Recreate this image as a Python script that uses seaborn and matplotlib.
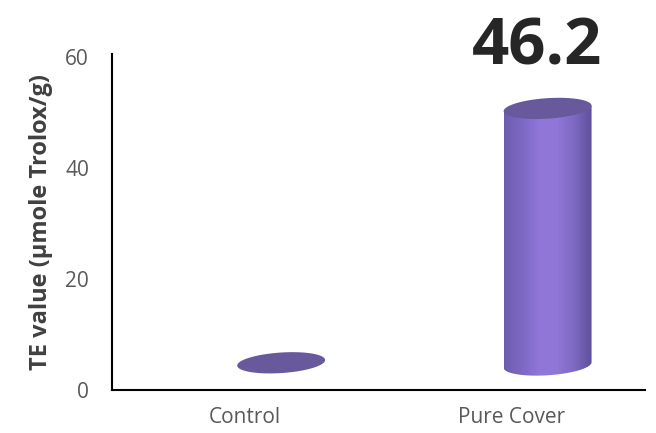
import numpy as np
import pandas as pd
import matplotlib
matplotlib.use("Agg")
import matplotlib.pyplot as plt
import seaborn as sns
from matplotlib.path import Path
from matplotlib.patches import PathPatch
from matplotlib.colors import LinearSegmentedColormap

categories = ["Control", "Pure Cover"]
values = [0.4, 46.2]
y_ticks = [0, 20, 40, 60]
y_label = "TE value (µmole Trolox/g)"

sns.set_theme(style="white")
plt.rcParams["font.family"] = ["Open Sans", "DejaVu Sans"]

df = pd.DataFrame({"cat": categories, "val": values})

fig = plt.figure(figsize=(6.56, 4.33), dpi=100)
ax = fig.add_axes([0.1707, 0.0993, 0.8123, 0.7760])
sns.barplot(data=df, x="cat", y="val", ax=ax, color="#8a72d4", width=0.33)

# 3D cylinder styling
base = 4.5        # depth offset (data units)
xshift = 0.135    # depth shift to the right
b = 1.85          # ellipse half-height (data units)
k = 3.0           # shear (tilt) y per x
cmap = LinearSegmentedColormap.from_list(
    "cyl", ["#6d5cae", "#7d68c4", "#8f76d8", "#9077d8", "#7e69c2", "#5f4f98"])
grad = np.linspace(0, 1, 256).reshape(1, -1)
t = np.linspace(0, 2 * np.pi, 100)

for p in ax.patches:
    w = p.get_width()
    a = w / 2
    cx = p.get_x() + a + xshift
    h = p.get_height()
    bot = base
    top = base + h
    p.set_visible(False)
    # side polygon
    tb = np.linspace(np.pi, 2 * np.pi, 60)
    xs = [cx - a, cx - a]
    ys = [top - k * a, bot - k * a]
    xs += list(cx + a * np.cos(tb))
    ys += list(bot + b * np.sin(tb) + k * a * np.cos(tb))
    xs += [cx + a]
    ys += [top + k * a]
    verts = np.column_stack([xs, ys])
    side = PathPatch(Path(np.vstack([verts, verts[:1]]), closed=True),
                     facecolor="none", edgecolor="none")
    ax.add_patch(side)
    if h > 1:
        im = ax.imshow(grad, cmap=cmap, aspect="auto",
                       extent=(cx - a, cx + a, bot - 3 * b, top + 3 * b),
                       interpolation="bicubic", zorder=2)
        im.set_clip_path(side)
    # top ellipse
    ex = cx + a * np.cos(t)
    ey = top + b * np.sin(t) + k * a * np.cos(t)
    ax.fill(ex, ey, color="#68589c", zorder=3, lw=0)

ax.set_xlim(-0.5, 1.5)
ax.set_ylim(0, 60.5)
ax.set_yticks(y_ticks)
ax.set_xlabel("")
ax.set_ylabel(y_label, fontsize=17, fontweight="bold", color="#404040", labelpad=9)
ax.tick_params(axis="both", length=0, labelsize=15, colors="#595959")
ax.tick_params(axis="y", pad=16.5)
ax.tick_params(axis="x", pad=12)
for s in ["top", "right"]:
    ax.spines[s].set_visible(False)
for s in ["left", "bottom"]:
    ax.spines[s].set_color("#000000")
    ax.spines[s].set_linewidth(1.5)

ax.text(1.095, 61.6, f"{values[1]:.1f}", ha="center", va="center",
        fontsize=47, fontweight="bold", color="#262626", clip_on=False)

fig.savefig("out.png", dpi=100)
